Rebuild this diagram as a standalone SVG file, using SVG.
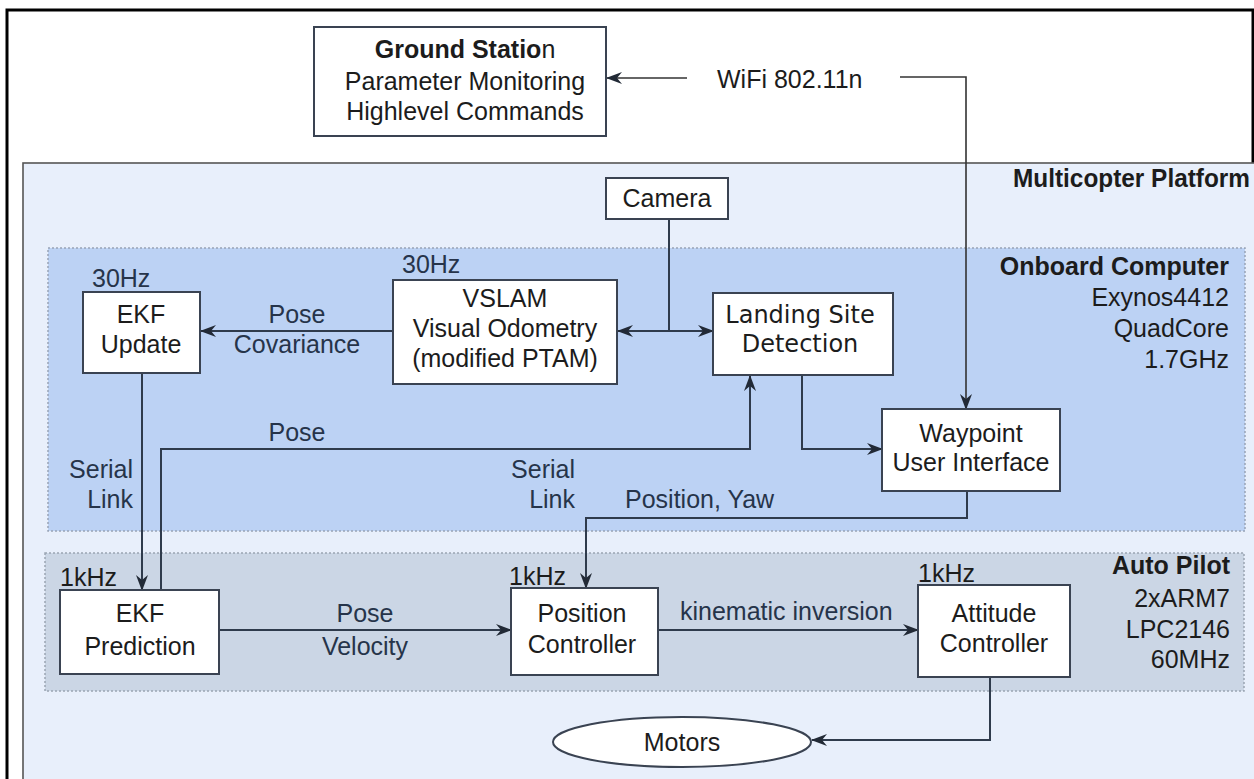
<svg xmlns="http://www.w3.org/2000/svg" width="1254" height="779" viewBox="0 0 1254 779">
<defs>
<style>
text{font-family:"Liberation Sans",Arial,sans-serif;font-size:25px;fill:#1c1c1c}
.b{font-weight:bold}
.m{text-anchor:middle}
.e{text-anchor:end}
.lbl{fill:#26344a}
.dj{font-family:"DejaVu Sans",sans-serif;font-size:24px}
.box{fill:#ffffff;stroke:#3a4352;stroke-width:2}
.con{fill:none;stroke:#2f3b4c;stroke-width:2}
.thin{fill:none;stroke:#333;stroke-width:1.6}
</style>
<marker id="ah" viewBox="0 0 16 12" refX="15" refY="6" markerWidth="16" markerHeight="12" markerUnits="userSpaceOnUse" orient="auto-start-reverse">
<path d="M0,0 L16,6 L0,12 L5,6 Z" fill="#222a36"/>
</marker>
</defs>
<rect x="0" y="0" width="1254" height="779" fill="#ffffff"/>

<g id="frame">
<path d="M7,779 V10 H1253 V163" fill="none" stroke="#000" stroke-width="3"/>
</g>

<g id="multicopter-platform">
<rect x="23" y="163" width="1240" height="630" fill="#e8effb" stroke="#555" stroke-width="1.6"/>
<text class="b" x="1013" y="187" textLength="237" lengthAdjust="spacingAndGlyphs">Multicopter Platform</text>
</g>

<g id="onboard-computer">
<rect x="48" y="248" width="1197" height="283" fill="#bcd2f4" stroke="#98a4b6" stroke-width="1.5" stroke-dasharray="2,2"/>
<text class="b e" x="1229" y="275">Onboard Computer</text>
<text class="e" x="1229" y="306">Exynos4412</text>
<text class="e" x="1229" y="337">QuadCore</text>
<text class="e" x="1229" y="368">1.7GHz</text>
</g>

<g id="auto-pilot">
<rect x="45" y="553" width="1199" height="138" fill="#cbd6e5" stroke="#9ba5b3" stroke-width="1.5" stroke-dasharray="2,2"/>
<text class="b e" x="1230" y="574">Auto Pilot</text>
<text class="e" x="1230" y="607">2xARM7</text>
<text class="e" x="1230" y="638">LPC2146</text>
<text class="e" x="1230" y="668">60MHz</text>
</g>

<g id="connectors">
<path class="thin" d="M687,78 H607" marker-end="url(#ah)"/>
<path class="thin" d="M900,77 H966 V409" marker-end="url(#ah)"/>
<path class="con" d="M669,219 V331"/>
<path class="con" d="M618,331 H713" marker-start="url(#ah)" marker-end="url(#ah)"/>
<path class="con" d="M393,331 H201" marker-end="url(#ah)"/>
<path class="con" d="M142,373 V590" marker-end="url(#ah)"/>
<path class="con" d="M161,590 V449 H750 V376" marker-end="url(#ah)"/>
<path class="con" d="M802,375 V449 H882" marker-end="url(#ah)"/>
<path class="con" d="M967,491 V518 H586 V588" marker-end="url(#ah)"/>
<path class="con" d="M219,630 H511" marker-end="url(#ah)"/>
<path class="con" d="M658,630 H918" marker-end="url(#ah)"/>
<path class="con" d="M990,677 V740 H812" marker-end="url(#ah)"/>
</g>

<g id="connector-labels">
<text x="717" y="88">WiFi 802.11n</text>
<text class="m lbl" x="297" y="323">Pose</text>
<text class="m lbl" x="297" y="353">Covariance</text>
<text class="m lbl" x="297" y="441">Pose</text>
<text class="e lbl" x="133" y="478">Serial</text>
<text class="e lbl" x="133" y="508">Link</text>
<text class="e lbl" x="575" y="478">Serial</text>
<text class="e lbl" x="575" y="508">Link</text>
<text class="lbl" x="625" y="508">Position, Yaw</text>
<text class="m lbl" x="365" y="622">Pose</text>
<text class="m lbl" x="365" y="655">Velocity</text>
<text class="lbl" x="680" y="620">kinematic inversion</text>
</g>

<g id="ground-station">
<rect class="box" x="314" y="27" width="292" height="109"/>
<text class="m" x="465" y="58"><tspan class="b">Ground Statio</tspan>n</text>
<text class="m" x="465" y="90">Parameter Monitoring</text>
<text class="m" x="465" y="120">Highlevel Commands</text>
</g>

<g id="camera">
<rect class="box" x="606" y="178" width="122" height="41"/>
<text class="m" x="667" y="207">Camera</text>
</g>

<g id="ekf-update">
<text class="lbl" x="92" y="287">30Hz</text>
<rect class="box" x="83" y="292" width="117" height="81"/>
<text class="m" x="141" y="323">EKF</text>
<text class="m" x="141" y="353">Update</text>
</g>

<g id="vslam">
<text class="lbl" x="402" y="273">30Hz</text>
<rect class="box" x="393" y="280" width="224" height="104"/>
<text class="m" x="505" y="307">VSLAM</text>
<text class="m" x="505" y="337">Visual Odometry</text>
<text class="m" x="505" y="367">(modified PTAM)</text>
</g>

<g id="landing-site-detection">
<rect class="box" x="713" y="293" width="180" height="82"/>
<text class="m dj" x="800" y="323">Landing Site</text>
<text class="m dj" x="800" y="352">Detection</text>
</g>

<g id="waypoint-ui">
<rect class="box" x="882" y="409" width="178" height="82"/>
<text class="m" x="971" y="442">Waypoint</text>
<text class="m" x="971" y="471">User Interface</text>
</g>

<g id="ekf-prediction">
<text x="60" y="586">1kHz</text>
<rect class="box" x="60" y="590" width="159" height="84"/>
<text class="m" x="140" y="622">EKF</text>
<text class="m" x="140" y="655">Prediction</text>
</g>

<g id="position-controller">
<text x="509" y="585">1kHz</text>
<rect class="box" x="511" y="588" width="147" height="87"/>
<text class="m" x="582" y="622">Position</text>
<text class="m" x="582" y="653">Controller</text>
</g>

<g id="attitude-controller">
<text x="918" y="582">1kHz</text>
<rect class="box" x="918" y="585" width="152" height="92"/>
<text class="m" x="994" y="622">Attitude</text>
<text class="m" x="994" y="652">Controller</text>
</g>

<g id="motors">
<ellipse cx="682" cy="742" rx="129" ry="25" fill="#ffffff" stroke="#3a4352" stroke-width="2"/>
<text class="m" x="682" y="751">Motors</text>
</g>
</svg>
